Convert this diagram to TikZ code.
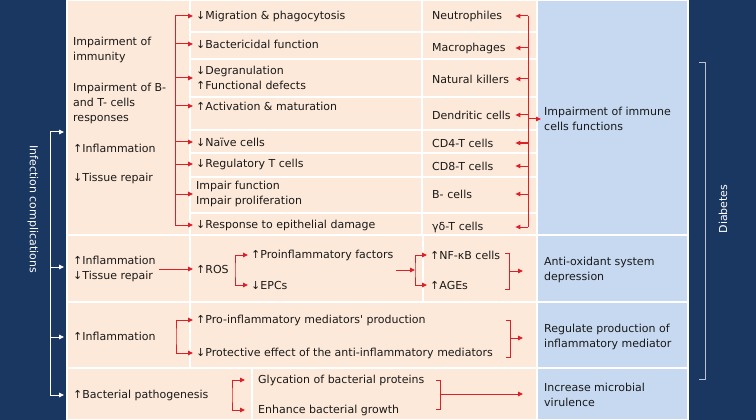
\documentclass[tikz,border=0pt]{standalone}
\usepackage{fontspec}
\setmainfont{DejaVu Sans}
\usetikzlibrary{arrows.meta}
\definecolor{navy}{HTML}{1A3761}
\definecolor{peach}{HTML}{FDE9D9}
\definecolor{paleblue}{HTML}{C6D9F1}
\definecolor{arrowred}{HTML}{DC2027}

\begin{document}
\begin{tikzpicture}[x=1pt,y=-1pt,cell/.style={draw=white, line width=1.2pt},txt/.style={anchor=west, align=left, inner xsep=3pt, inner ysep=1pt, font=\fontsize{11}{15}\selectfont, text=black!90},redline/.style={draw=arrowred, line width=1pt},redarr/.style={redline, -{Triangle[length=5pt,width=4.5pt]}},twoarr/.style={redline, {Triangle[length=5pt,width=4.5pt]}-{Triangle[length=5pt,width=4.5pt]}},whitearr/.style={draw=white, line width=1pt, -{Triangle[length=5pt,width=4.5pt]}},side/.style={text=white, font=\fontsize{11}{12}\selectfont}]
\useasboundingbox (0,0) rectangle (756,420);
\fill[navy] (0,0) rectangle (756,420);
% cells
\path[cell, fill=peach] (67,0) rectangle (190,235);
\foreach \t/\b in {0/32,32/59,59/97,97/130,130/153,153/177,177/213,213/235}{
  \path[cell, fill=peach] (190,\t) rectangle (422,\b);
  \path[cell, fill=peach] (422,\t) rectangle (537,\b);
}
\path[cell, fill=peach] (67,235) rectangle (190,302) (190,235) rectangle (423,302) (423,235) rectangle (537,302);
\path[cell, fill=peach] (67,302) rectangle (190,368) (190,302) rectangle (537,368);
\path[cell, fill=peach] (67,368) rectangle (252,420) (252,368) rectangle (537,420);
\foreach \t/\b in {0/235,235/302,302/368,368/420}
  \path[cell, fill=paleblue] (537,\t) rectangle (688,\b);
% side labels
\node[side, rotate=-90] (inf) at (33,209) {Infection complications};
\node[side, rotate=90] (dia) at (723,209) {Diabetes};
\draw[white!70!navy, line width=1pt] (699,63) -- (705,63) -- (705,379) -- (699,379);
\coordinate (lw) at (50,0);
\coordinate (r1) at (64,132); \coordinate (r2) at (64,267); \coordinate (r3) at (64,337); \coordinate (r4) at (64,395);
\draw[white, line width=1pt] (lw |- r1) -- (lw |- r4);
\foreach \i in {1,...,4} \draw[whitearr] (lw |- r\i) -- (r\i);
% row 1
\node[txt] (imm) at (70,50) {Impairment of\\immunity};
\node[txt] (bt) at (70,103) {Impairment of B-\\and T- cells\\responses};
\node[txt] (inf1) at (70,148) {↑Inflammation};
\node[txt] (tis1) at (70,178) {↓Tissue repair};
\node[txt] (m1) at (193,16) {↓Migration \& phagocytosis};
\node[txt] (m2) at (193,44) {↓Bactericidal function};
\node[txt] (m3) at (193,78) {↓Degranulation\\↑Functional defects};
\node[txt] (m4) at (193,106) {↑Activation \& maturation};
\node[txt] (m5) at (193,142) {↓Naïve cells};
\node[txt] (m6) at (193,164) {↓Regulatory T cells};
\node[txt] (m7) at (193,194) {Impair function\\Impair proliferation};
\node[txt] (m8) at (193,225) {↓Response to epithelial damage};
\coordinate (lt) at (175,0);
\draw[redline] (lt |- m1.west) -- (lt |- m8.west);
\foreach \i in {1,...,8} \draw[redarr] (lt |- m\i.west) -- (m\i.west);
\node[txt, text width=80pt] (c1) at (429,16) {Neutrophiles};
\node[txt, text width=80pt] (c2) at (429,48) {Macrophages};
\node[txt, text width=80pt] (c3) at (429,79) {Natural killers};
\node[txt, text width=80pt] (c4) at (429,115) {Dendritic cells};
\node[txt, text width=80pt] (c5) at (429,143) {CD4-T cells};
\node[txt, text width=80pt] (c6) at (429,166) {CD8-T cells};
\node[txt, text width=80pt] (c7) at (429,194) {B- cells};
\node[txt, text width=80pt] (c8) at (429,227) {γδ-T cells};
\coordinate (rt) at (528,0);
\draw[redline] (rt |- c1.east) -- (rt |- c8.east);
\foreach \i in {1,...,8} \draw[redarr] (rt |- c\i.east) -- (c\i.east);
\node[txt] (icf) at (541,119) {Impairment of immune\\cells functions};
\draw[redarr] (rt |- icf.west) -- (icf.west);
% row 2
\node[txt] (inf2) at (70,269) {↑Inflammation\\↓Tissue repair};
\node[txt] (ros) at (193,269) {↑ROS};
\draw[redarr] (inf2.east) -- (ros.west);
\node[txt] (pf) at (248,255) {↑Proinflammatory factors};
\node[txt] (epc) at (248,285) {↓EPCs};
\coordinate (rb) at (235,270);
\draw[twoarr] (pf.west) -| (rb) |- (epc.west);
\node[txt] (nfk) at (427,255) {↑NF-κB cells};
\node[txt] (age) at (427,285) {↑AGEs};
\coordinate (nb) at (415,270);
\draw[redarr] (pf.east |- nb) -- (nb);
\draw[twoarr] (nfk.west) -| (nb) |- (age.west);
\draw[redline] (505,253) -- (509,253) -- (509,289) -- (505,289);
\node[txt] (aox) at (541,270) {Anti-oxidant system\\depression};
\draw[redarr] (509,271) -- ++(14,0);
% row 3
\node[txt] (inf3) at (70,336) {↑Inflammation};
\node[txt] (pim) at (193,320) {↑Pro-inflammatory mediators\textquotesingle\ production};
\node[txt] (pro) at (193,353) {↓Protective effect of the anti-inflammatory mediators};
\coordinate (ib) at (176,336);
\draw[twoarr] (pim.west) -| (ib) |- (pro.west);
\draw[redline] (506,320) -- (510,320) -- (510,357) -- (506,357);
\node[txt] (reg) at (541,337) {Regulate production of\\inflammatory mediator};
\draw[redarr] (510,338) -- ++(13,0);
% row 4
\node[txt] (bac) at (70,395) {↑Bacterial pathogenesis};
\node[txt] (gly) at (255,380) {Glycation of bacterial proteins};
\node[txt] (grw) at (255,410) {Enhance bacterial growth};
\coordinate (gb) at (232,395);
\draw[twoarr] ([xshift=-10pt]gly.west) -| (gb) |- ([xshift=-10pt]grw.west);
\draw[redline] (436,380) -- (440,380) -- (440,409) -- (436,409);
\node[txt] (vir) at (541,395) {Increase microbial\\virulence};
\draw[redarr] (440,394) -- (523,394);
\end{tikzpicture}
\end{document}
